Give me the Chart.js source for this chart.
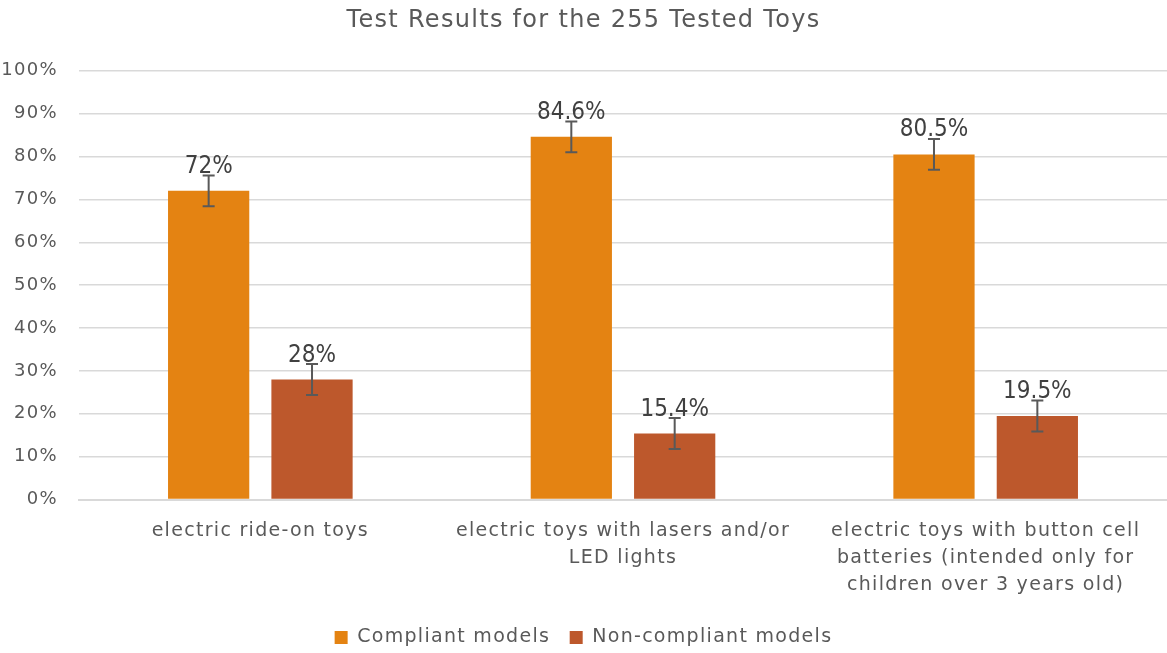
<!DOCTYPE html>
<html>
<head>
<meta charset="utf-8">
<script src="https://cdn.jsdelivr.net/npm/chart.js@4.4.1/dist/chart.umd.min.js"></script>
<style>
	html, body { margin: 0; padding: 0; background: #fff; }
	#wrap { width: 1167px; height: 653px; }
</style>
</head>
<body>
<div id="wrap"><canvas id="chart"></canvas></div>
<script>
const categories = [
	["electric ride-on toys"],
	["electric toys with lasers and/or", "LED lights"],
	["electric toys with button cell", "batteries (intended only for", "children over 3 years old)"]
];
const compliant = [72, 84.6, 80.5];
const nonCompliant = [28, 15.4, 19.5];
const compliantErr = [3.6, 3.6, 3.6];
const nonCompliantErr = [3.6, 3.6, 3.6];
const yTicks = [0, 10, 20, 30, 40, 50, 60, 70, 80, 90, 100];

const FONT = "'DejaVu Sans', sans-serif";
const NARROW = "'DejaVu Sans Condensed', 'DejaVu Sans', sans-serif";
const TEXT = "#595959";

// the reference text is set loosely, so widen the canvas letter spacing
const spacing = {
	id: "spacing",
	beforeLayout(chart) { chart.ctx.letterSpacing = "1.3px"; },
	beforeDraw(chart) { chart.ctx.letterSpacing = "1.3px"; }
};

// error bars + value labels drawn from the bar elements
const extras = {
	id: "extras",
	afterDatasetsDraw(chart) {
		let ctx = chart.ctx;
		let y = chart.scales.y;
		chart.data.datasets.forEach(function(ds, i) {
			let meta = chart.getDatasetMeta(i);
			meta.data.forEach(function(bar, j) {
				let v = ds.data[j];
				let e = ds.errors[j];
				let top = y.getPixelForValue(v + e);
				let bot = y.getPixelForValue(v - e);
				ctx.save();
				ctx.strokeStyle = TEXT;
				ctx.lineWidth = 2;
				ctx.beginPath();
				ctx.moveTo(bar.x, top); ctx.lineTo(bar.x, bot);
				ctx.moveTo(bar.x - 6, top); ctx.lineTo(bar.x + 6, top);
				ctx.moveTo(bar.x - 6, bot); ctx.lineTo(bar.x + 6, bot);
				ctx.stroke();
				ctx.letterSpacing = "0px";
				ctx.fillStyle = "#404040";
				ctx.font = "24px " + NARROW;
				ctx.textAlign = "center";
				ctx.textBaseline = "alphabetic";
				ctx.fillText(v + "%", bar.x, y.getPixelForValue(v) - 18);
				ctx.restore();
			});
		});
	}
};

new Chart(document.getElementById("chart"), {
	type: "bar",
	data: {
		labels: categories,
		datasets: [{
			label: "Compliant models",
			data: compliant,
			errors: compliantErr,
			backgroundColor: "#E48312"
		}, {
			label: "Non-compliant models",
			data: nonCompliant,
			errors: nonCompliantErr,
			backgroundColor: "#BD582C"
		}]
	},
	options: {
		responsive: true,
		maintainAspectRatio: false,
		animation: false,
		categoryPercentage: 0.57,
		barPercentage: 0.786,
		layout: { padding: { left: 0, right: 0, top: 4, bottom: -4 } },
		plugins: {
			title: {
				display: true,
				text: "Test Results for the 255 Tested Toys",
				color: TEXT,
				font: { family: FONT, size: 24, weight: "normal" },
				padding: { top: 2, bottom: 36 }
			},
			legend: {
				position: "bottom",
				labels: {
					color: TEXT,
					font: { family: FONT, size: 19 },
					boxWidth: 13,
					boxHeight: 13,
					padding: 19.5
				}
			},
			tooltip: { enabled: false }
		},
		scales: {
			x: {
				grid: { display: false },
				border: { color: "#D9D9D9", width: 2 },
				ticks: {
					color: TEXT,
					font: { family: FONT, size: 19, lineHeight: 1.42 },
					maxRotation: 0,
					autoSkip: false,
					padding: 10
				}
			},
			y: {
				min: 0,
				max: 100,
				afterBuildTicks: function(axis) {
					axis.ticks = yTicks.map(function(v) { return { value: v }; });
				},
				afterFit: function(axis) { axis.width = 79; },
				grid: { color: "#D9D9D9", lineWidth: 1.5, drawTicks: false },
				border: { display: false },
				ticks: {
					color: TEXT,
					font: { family: FONT, size: 18 },
					padding: 21,
					callback: function(v) { return v + "%"; }
				}
			}
		}
	},
	plugins: [spacing, extras]
});
</script>
</body>
</html>
